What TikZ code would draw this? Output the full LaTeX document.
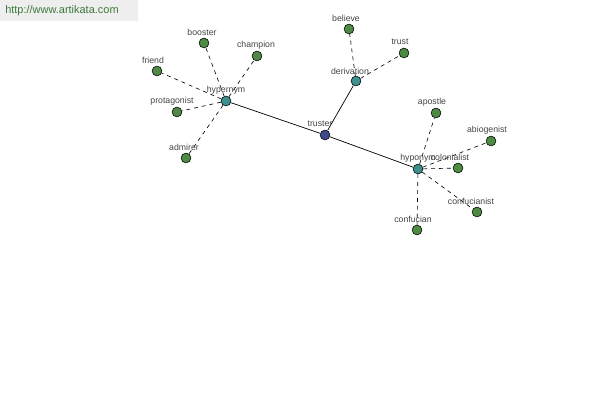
\documentclass[tikz,border=0pt]{standalone}
\usepackage{fontspec}
\setmainfont{Liberation Sans}
\definecolor{leafc}{HTML}{4E8A44}
\definecolor{hubc}{HTML}{3C9090}
\definecolor{rootc}{HTML}{3C4A8C}
\definecolor{urlc}{HTML}{3C7A3C}
\definecolor{hdrc}{HTML}{EEEEEE}
\definecolor{txtc}{HTML}{444444}
\tikzset{
  dot/.style={circle,draw=black,line width=0.4pt,inner sep=0pt,minimum size=7pt},
  leaf/.style={dot,fill=leafc},
  hub/.style={dot,fill=hubc},
  root/.style={dot,fill=rootc},
  lbl/.style={font=\fontsize{6.2}{7}\selectfont,text=txtc,inner sep=0pt},
  dlink/.style={dashed,dash pattern=on 2.8pt off 2.8pt,line width=0.45pt},
  slink/.style={line width=0.5pt}
}
\begin{document}
\begin{tikzpicture}[x=0.025cm,y=-0.025cm]
\useasboundingbox (0,0) rectangle (600,400);
\fill[hdrc] (0,0) rectangle (138,21);
\node[anchor=west,inner sep=0pt,font=\fontsize{7.8}{9}\selectfont,text=urlc] (url) at (5,11) {http://www.artikata.com};
% nodes
\node[root] (truster) at (325,135) {};
\node[hub] (hypernym) at (226,101) {};
\node[hub] (derivation) at (356,81) {};
\node[hub] (hyponym) at (418,169) {};
\node[leaf] (booster) at (204,43) {};
\node[leaf] (champion) at (257,56) {};
\node[leaf] (friend) at (157,71) {};
\node[leaf] (protagonist) at (177,112) {};
\node[leaf] (admirer) at (186,158) {};
\node[leaf] (believe) at (349,29) {};
\node[leaf] (trust) at (404,53) {};
\node[leaf] (apostle) at (436,113) {};
\node[leaf] (abiogenist) at (491,141) {};
\node[leaf] (colonialist) at (458,168) {};
\node[leaf] (confucianist) at (477,212) {};
\node[leaf] (confucian) at (417,230) {};
% edges
\begin{scope}[on background layer/.style={}]
\draw[slink] (truster) -- (hypernym);
\draw[slink] (truster) -- (derivation);
\draw[slink] (truster) -- (hyponym);
\foreach \l in {booster,champion,friend,protagonist,admirer}
  \draw[dlink] (hypernym) -- (\l);
\foreach \l in {believe,trust}
  \draw[dlink] (derivation) -- (\l);
\foreach \l in {apostle,abiogenist,colonialist,confucianist,confucian}
  \draw[dlink] (hyponym) -- (\l);
\end{scope}
% labels
\node[lbl] (lt) at (320,124) {truster};
\node[lbl] (lhy) at (226,90) {hypernym};
\node[lbl] (lde) at (350,71) {derivation};
\node[lbl] (lho) at (418,158) {hyponym};
\node[lbl] (lbo) at (202,32) {booster};
\node[lbl] (lch) at (256,45) {champion};
\node[lbl] (lfr) at (153,60) {friend};
\node[lbl] (lpr) at (172,101) {protagonist};
\node[lbl] (lad) at (184,147) {admirer};
\node[lbl] (lbe) at (346,18) {believe};
\node[lbl] (ltr) at (400,42) {trust};
\node[lbl] (lap) at (432,102) {apostle};
\node[lbl] (lab) at (487,130) {abiogenist};
\node[lbl] (lco) at (450,157) {colonialist};
\node[lbl] (lcf) at (471,201) {confucianist};
\node[lbl] (lcn) at (413,219) {confucian};
\end{tikzpicture}
\end{document}
